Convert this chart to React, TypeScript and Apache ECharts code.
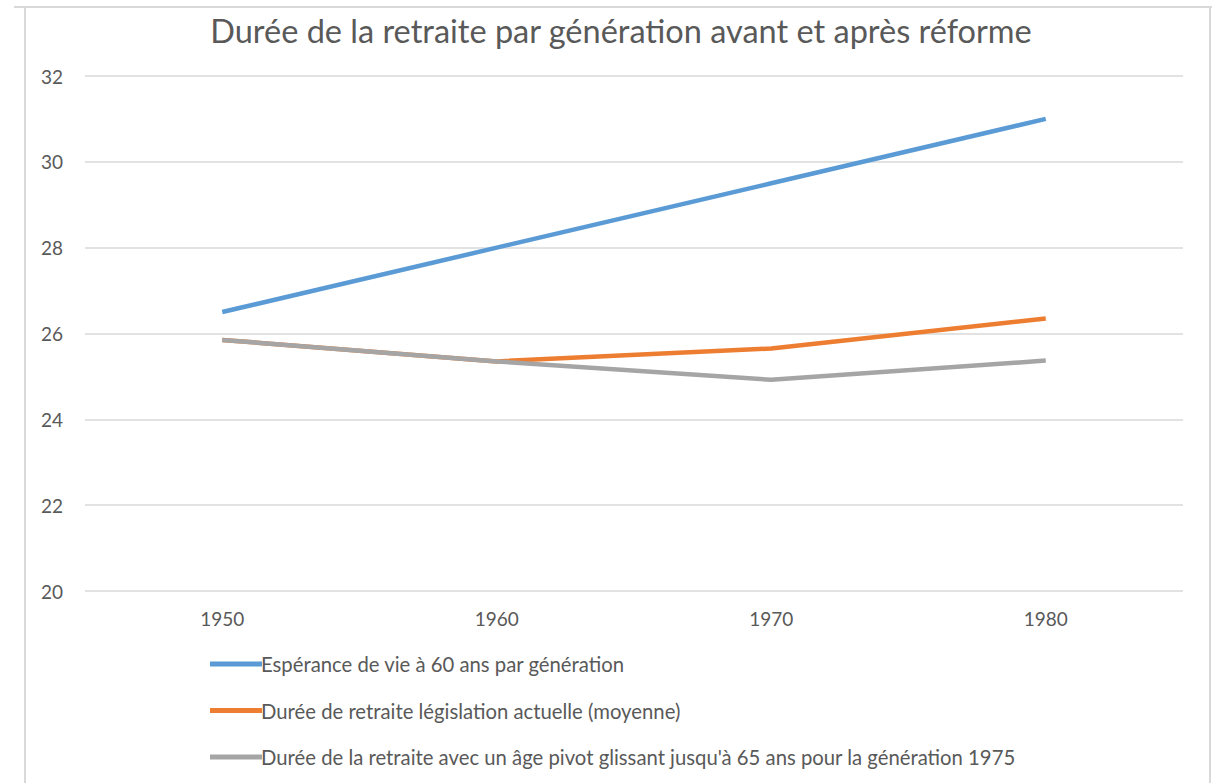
import React, { useEffect, useRef } from "react";
import * as echarts from "echarts";

const categories = ["1950", "1960", "1970", "1980"];
const esperance = [26.5, 28.0, 29.5, 31.0];
const legislationActuelle = [25.85, 25.35, 25.65, 26.35];
const agePivot = [25.85, 25.35, 24.92, 25.37];
const seriesNames = [
  "Espérance de vie à 60 ans par génération",
  "Durée de retraite législation actuelle (moyenne)",
  "Durée de la retraite avec un âge pivot glissant jusqu'à 65 ans pour la génération 1975",
];
const yMin = 20;
const yMax = 32;
const yInterval = 2;

const FONT = "Lato, 'Open Sans', sans-serif";
const TEXT = "#595959";

export default function App() {
  const ref = useRef<HTMLDivElement>(null);
  useEffect(() => {
    if (!ref.current) return;
    const chart = echarts.init(ref.current, undefined, { renderer: "svg" });
    const frame = "#d9d9d9";
    chart.setOption({
      animation: false,
      backgroundColor: "#ffffff",
      title: {
        text: "Durée de la retraite par génération avant et après réforme",
        left: 616,
        textAlign: "center",
        top: 9,
        textStyle: { fontFamily: FONT, fontSize: 32.5, fontWeight: "normal", color: TEXT },
      },
      graphic: [
        { type: "line", shape: { x1: 14, y1: 7, x2: 1212, y2: 7 }, style: { stroke: frame, lineWidth: 2 } },
        { type: "line", shape: { x1: 25, y1: 7, x2: 25, y2: 783 }, style: { stroke: frame, lineWidth: 2 } },
        { type: "line", shape: { x1: 1210, y1: 7, x2: 1210, y2: 783 }, style: { stroke: frame, lineWidth: 2 } },
      ],
      grid: { left: 85, right: 42, top: 76, bottom: 192, containLabel: false },
      xAxis: {
        type: "category",
        data: categories,
        boundaryGap: true,
        axisLine: { show: false },
        axisTick: { show: false },
        axisLabel: { color: TEXT, fontFamily: FONT, fontSize: 19, margin: 18 },
      },
      yAxis: {
        type: "value",
        min: yMin,
        max: yMax,
        interval: yInterval,
        axisLine: { show: false },
        axisTick: { show: false },
        axisLabel: { color: TEXT, fontFamily: FONT, fontSize: 19, margin: 22 },
        splitLine: { lineStyle: { color: "#d9d9d9", width: 1.5 } },
      },
      legend: {
        orient: "vertical",
        left: 205,
        top: 648,
        icon: "rect",
        itemWidth: 52,
        itemHeight: 5,
        itemGap: 24.5,
        textStyle: { color: TEXT, fontFamily: FONT, fontSize: 20.3, lineHeight: 22, padding: [0, 0, 0, -6] },
        data: seriesNames,
      },
      series: [
        {
          name: seriesNames[0],
          type: "line",
          data: esperance,
          symbol: "none",
          lineStyle: { width: 4.5, color: "#5B9BD5" },
          itemStyle: { color: "#5B9BD5" },
          z: 3,
        },
        {
          name: seriesNames[1],
          type: "line",
          data: legislationActuelle,
          symbol: "none",
          lineStyle: { width: 4.5, color: "#ED7D31" },
          itemStyle: { color: "#ED7D31" },
          z: 2,
        },
        {
          name: seriesNames[2],
          type: "line",
          data: agePivot,
          symbol: "none",
          lineStyle: { width: 4.5, color: "#A5A5A5" },
          itemStyle: { color: "#A5A5A5" },
          z: 4,
        },
      ],
    });
    return () => chart.dispose();
  }, []);
  return (
    <div
      ref={ref}
      style={{ position: "fixed", left: 0, top: 0, width: 1225, height: 783 }}
    />
  );
}
